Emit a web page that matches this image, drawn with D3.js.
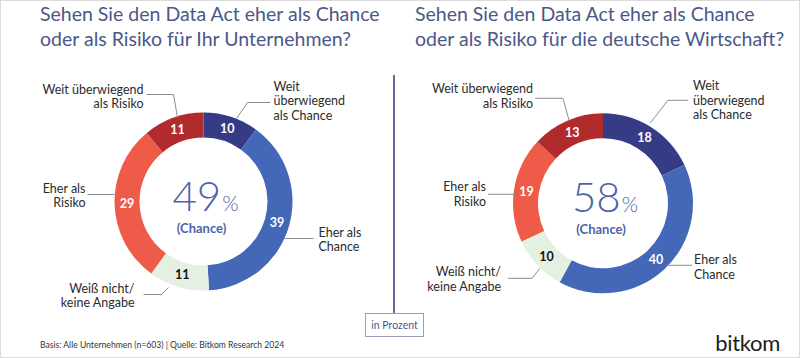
<!DOCTYPE html>
<html><head><meta charset="utf-8">
<script src="https://cdn.jsdelivr.net/npm/d3@7"></script>
<style>
html,body{margin:0;padding:0;background:#fff;}
svg{display:block;font-family:Lato,"Open Sans",sans-serif;}
</style></head>
<body><svg id="c" width="800" height="358"></svg>
<script>
// ---- data ----
const categories = ["Weit überwiegend als Chance", "Eher als Chance", "Weiß nicht/keine Angabe", "Eher als Risiko", "Weit überwiegend als Risiko"];
const categoryLines = [["Weit", "überwiegend", "als Chance"], ["Eher als", "Chance"], ["Weiß nicht/", "keine Angabe"], ["Eher als", "Risiko"], ["Weit überwiegend", "als Risiko"]];
const valuesUnternehmen = [10, 39, 11, 29, 11];
const valuesWirtschaft = [18, 40, 10, 19, 13];
const chanceTotals = [49, 58];
const titles = [
  ["Sehen Sie den Data Act eher als Chance", "oder als Risiko für Ihr Unternehmen?"],
  ["Sehen Sie den Data Act eher als Chance", "oder als Risiko für die deutsche Wirtschaft?"]
];
const colors = ["#363b86", "#4467b7", "#e4f0e1", "#ee5b48", "#b12a2c"];
const labelColors = ["#fff", "#fff", "#111", "#fff", "#fff"];

const svg = d3.select("#c");
svg.append("rect").attr("x",0.5).attr("y",0.5).attr("width",799).attr("height",357)
  .attr("fill","#fff").attr("stroke","#dcdcdc");

const titleColor = "#4a5889";

// layout per chart: centre, label anchors (relative to centre), leader polylines
const layouts = [
  { cx: 203.5, cy: 201.5, R: 89, r: 64, titleX: 40,
    labels: [
      {x: 70, y: -111, anchor: "start", lead: [[33,-83],[44,-99],[67,-99]]},
      {x: 115, y: 35, anchor: "start", lead: [[81,37],[110,37]]},
      {x: -69, y: 91, anchor: "end", lead: [[-35,86],[-42,93],[-60,93]]},
      {x: -118, y: -9, anchor: "end", lead: [[-89,-7],[-116,-7]]},
      {x: -60, y: -108, anchor: "end", lead: [[-26,-84],[-30,-107],[-57,-107]]}
    ]},
  { cx: 603, cy: 203.3, R: 90, r: 65, titleX: 415,
    labels: [
      {x: 90, y: -113, anchor: "start", lead: [[47,-80],[65,-103],[85,-103]]},
      {x: 91, y: 61, anchor: "start", lead: [[64,62],[89,62]]},
      {x: -102, y: 73, anchor: "end", lead: [[-63,65],[-71,75],[-95,75]]},
      {x: -117, y: -12, anchor: "end", lead: [[-88,-9],[-115,-9]]},
      {x: -70, y: -110, anchor: "end", lead: [[-34,-83],[-40,-105],[-68,-105]]}
    ]}
];

const datasets = [valuesUnternehmen, valuesWirtschaft];
const pie = d3.pie().sort(null).value(d => d);

datasets.forEach((vals, i) => {
  const L = layouts[i];
  // title
  const t = svg.append("text").attr("x", L.titleX).attr("y", 21)
    .attr("fill", titleColor).attr("font-size", 19.5);
  titles[i].forEach((line, k) => {
    t.append("tspan").attr("x", L.titleX).attr("dy", k === 0 ? 0 : 24.5).text(line);
  });

  const g = svg.append("g").attr("transform", `translate(${L.cx},${L.cy})`);
  const arc = d3.arc().innerRadius(L.r).outerRadius(L.R);
  const arcs = pie(vals);
  g.selectAll("path.s").data(arcs).join("path").attr("class","s")
    .attr("d", arc).attr("fill", (d, j) => colors[j]);
  const mid = d3.arc().innerRadius((L.R + L.r) / 2).outerRadius((L.R + L.r) / 2);
  g.selectAll("text.v").data(arcs).join("text").attr("class","v")
    .attr("transform", d => `translate(${mid.centroid(d)})`)
    .attr("text-anchor","middle").attr("dy","0.36em")
    .attr("font-size", 12.5).attr("font-weight", 700)
    .attr("fill", (d, j) => labelColors[j]).text(d => d.data);

  // leaders and category labels
  L.labels.forEach((lab, j) => {
    g.append("polyline").attr("points", lab.lead.map(p => p.join(",")).join(" "))
      .attr("fill","none").attr("stroke","#8c8c8c").attr("stroke-width",1);
    const tt = g.append("text").attr("x", lab.x).attr("y", lab.y)
      .attr("text-anchor", lab.anchor).attr("font-size", 12.5).attr("fill","#2b2b2b");
    categoryLines[j].forEach((line, k) => {
      tt.append("tspan").attr("x", lab.x).attr("dy", k === 0 ? 0 : 14.5).text(line);
    });
  });

  // centre text
  const ct = g.append("text").attr("x", 2).attr("y", 9).attr("text-anchor","middle")
    .attr("fill","#4a64a9");
  ct.append("tspan").attr("font-size", 42).attr("font-weight", 300).text(chanceTotals[i]);
  ct.append("tspan").attr("font-size", 21).attr("font-weight", 300).attr("dx", 1).text("%");
  g.append("text").attr("x", -2).attr("y", 31).attr("text-anchor","middle")
    .attr("fill","#4a64a9").attr("font-size", 13).attr("font-weight", 700).text("(Chance)");
});

// divider and unit box
svg.append("line").attr("x1",394).attr("x2",394).attr("y1",75).attr("y2",313)
  .attr("stroke","#2f3a7e").attr("stroke-width",1.5);
svg.append("rect").attr("x",365.5).attr("y",313.5).attr("width",58).attr("height",23)
  .attr("fill","#fff").attr("stroke","#9aa0b8");
svg.append("text").attr("x",394.5).attr("y",329).attr("text-anchor","middle")
  .attr("font-size",10.5).attr("fill",titleColor).text("in Prozent");

// footer
svg.append("text").attr("x",40).attr("y",348).attr("font-size",8.6).attr("fill","#333")
  .text("Basis: Alle Unternehmen (n=603) | Quelle: Bitkom Research 2024");
svg.append("text").attr("x",780).attr("y",351).attr("text-anchor","end")
  .attr("font-size",22).attr("fill","#1c1c1c").attr("letter-spacing",-0.3).text("bitkom");
</script></body></html>
